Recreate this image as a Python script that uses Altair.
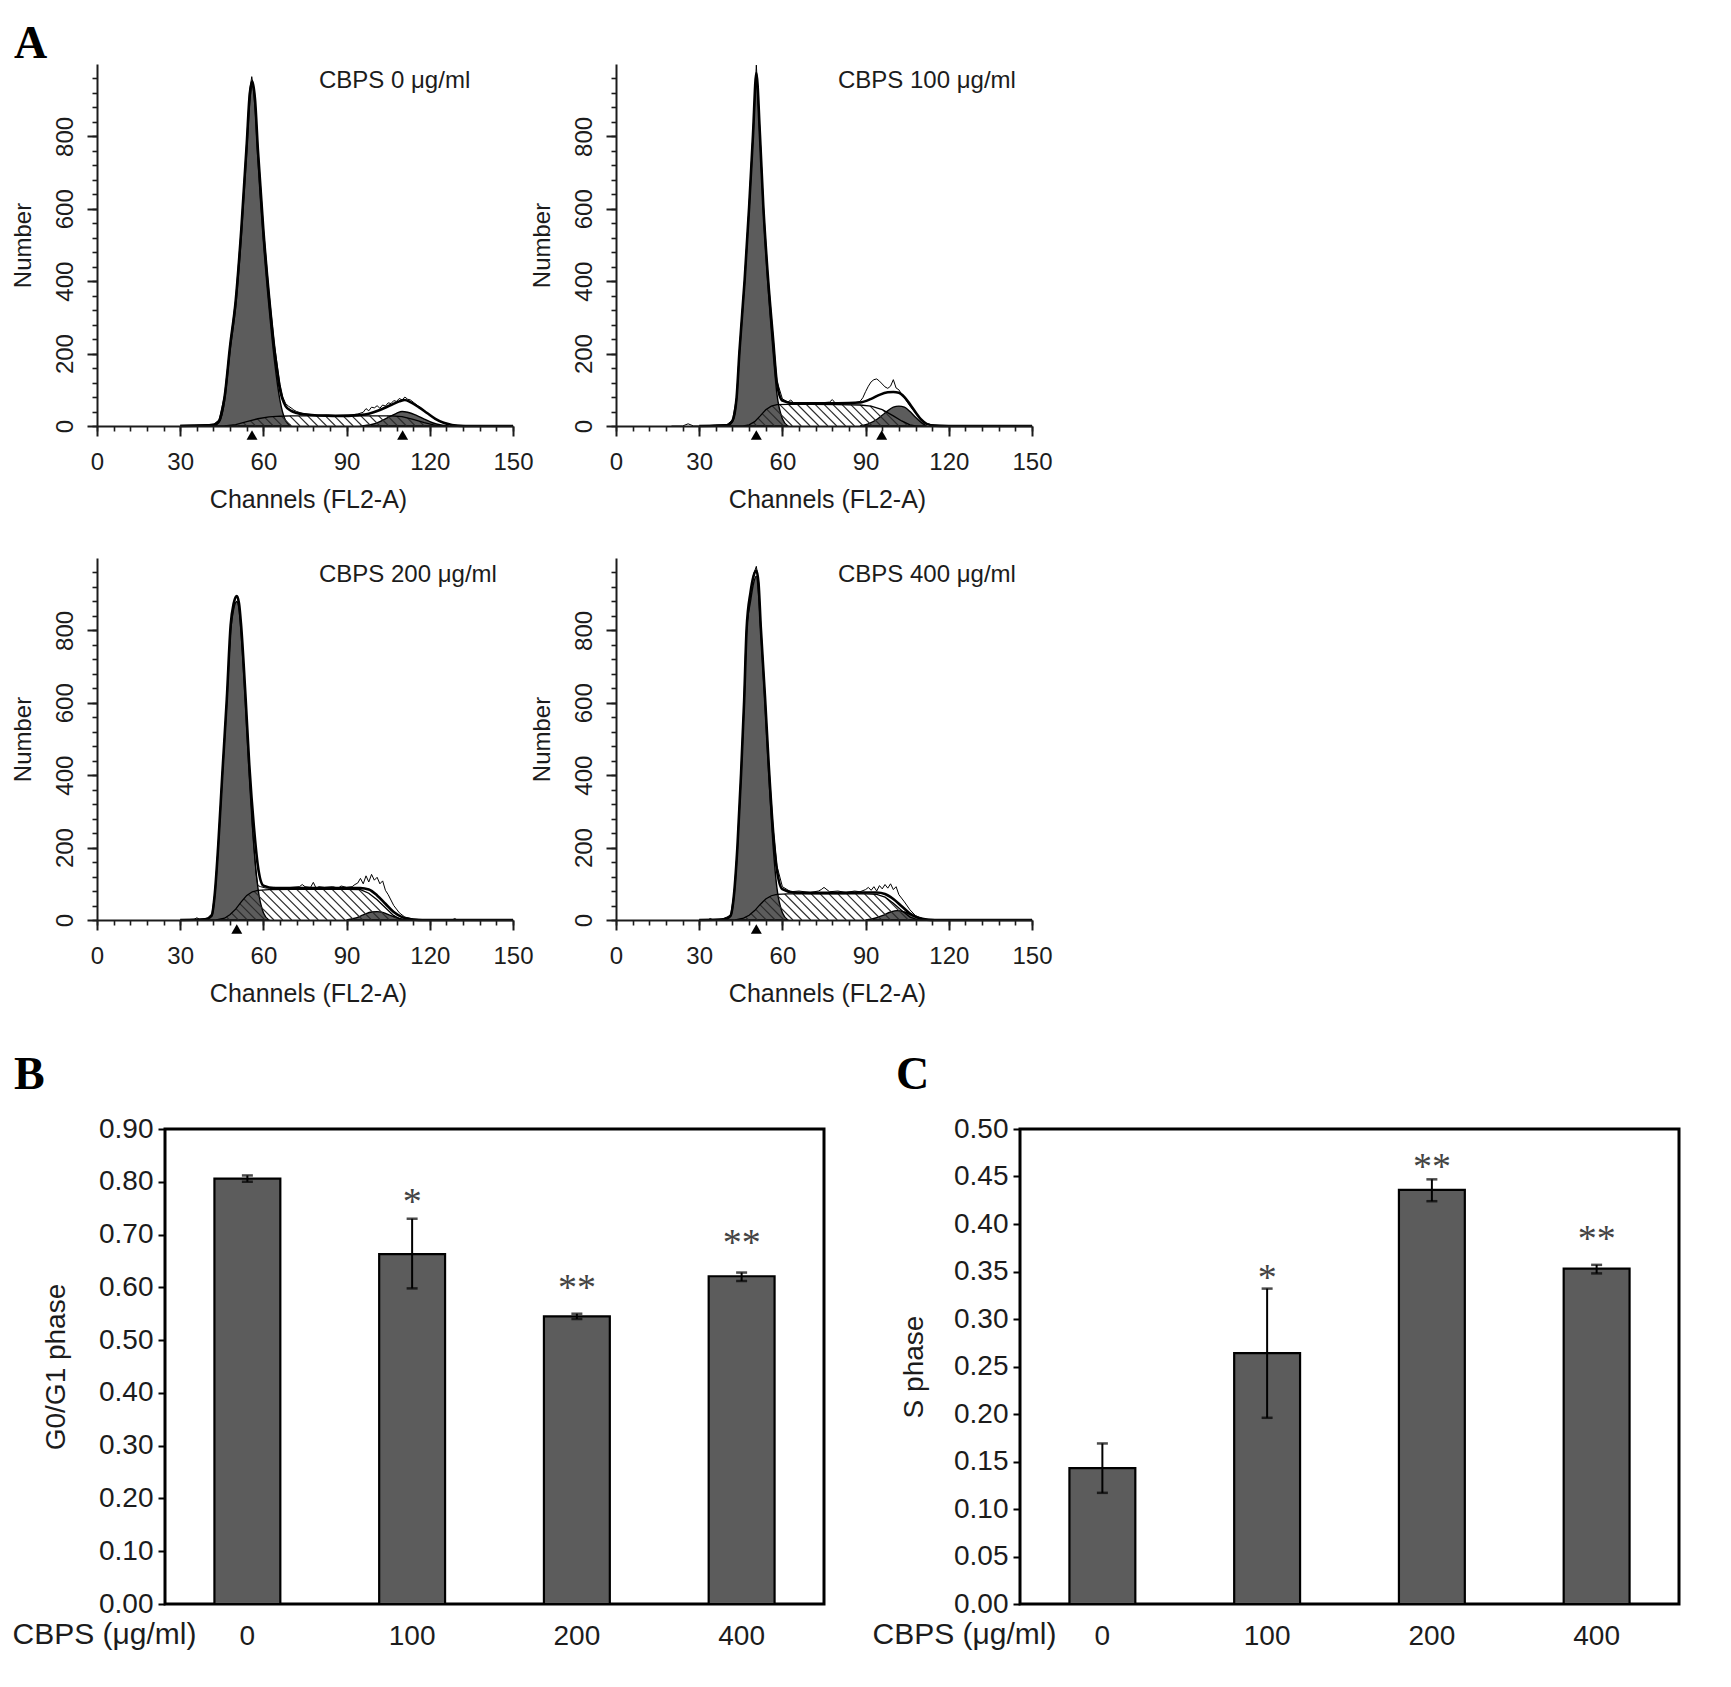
import numpy as np
import pandas as pd
import altair as alt

FONT = "Liberation Sans"
SERIF = "Liberation Serif"
INK = "#1c1c1c"
PEAK_GRAY = "#5c5c5c"

# ---------- panel A: DNA content histograms, (channel, number) ----------
PANEL_LABELS = ["CBPS 0 μg/ml", "CBPS 100 μg/ml", "CBPS 200 μg/ml", "CBPS 400 μg/ml"]

# CBPS 0
G1_0 = [(42, 0), (44, 10), (46, 70), (48, 210), (50, 330), (52, 520), (54, 760), (55, 890), (56, 938),
        (57, 880), (58, 740), (60, 510), (62, 330), (64, 180), (66, 70), (68, 15), (70, 0)]
S_0 = [(46, 0), (50, 4), (54, 12), (58, 20), (62, 25), (66, 27), (70, 28), (80, 28), (90, 28), (100, 28),
       (106, 28), (110, 26), (114, 18), (118, 9), (122, 2), (124, 0)]
G2_0 = [(95, 0), (99, 4), (102, 12), (105, 24), (108, 35), (110, 40), (112, 38), (115, 30), (118, 19),
        (121, 9), (124, 3), (127, 0)]
FIT_0 = [(30, 0), (40, 2), (42, 3), (44, 14), (46, 80), (48, 222), (50, 345), (52, 540), (54, 780), (55, 910),
         (56, 952), (57, 900), (58, 765), (60, 540), (62, 360), (64, 210), (66, 100), (68, 55), (70, 42), (72, 36),
         (76, 31), (80, 29), (85, 28), (90, 28), (94, 30), (98, 34), (102, 44), (106, 58), (109, 68), (111, 72),
         (113, 66), (116, 52), (119, 36), (122, 20), (125, 9), (128, 3), (132, 0), (150, 0)]
RAW_0 = [(30, 2), (35, 3), (40, 4), (42, 5), (44, 16), (46, 85), (48, 225), (50, 350), (52, 545), (54, 790),
         (55, 925), (55.8, 965), (57, 905), (58, 770), (60, 548), (62, 370), (64, 222), (66, 115), (67, 80),
         (68, 62), (69, 55), (70, 50), (71, 44), (72, 40), (74, 35), (77, 32), (80, 30), (83, 31), (86, 29),
         (89, 30), (92, 31), (94, 33), (96, 38), (97, 48), (98, 42), (99, 52), (100, 50), (101, 56), (102, 49),
         (103, 58), (104, 55), (105, 64), (106, 62), (107, 70), (108, 68), (109, 76), (110, 72), (111, 80),
         (112, 74), (113, 72), (114, 66), (116, 54), (118, 42), (120, 30), (122, 20), (124, 11), (126, 6),
         (128, 3), (131, 2), (134, 1), (138, 1), (142, 0)]
PEAKS_0 = [55.9, 110.2]

# CBPS 100
G1_100 = [(40, 0), (42, 12), (43.5, 75), (44.5, 200), (46.4, 400), (48, 600), (49.4, 800), (50.6, 960),
          (51.9, 800), (53.1, 600), (54.7, 400), (56.7, 200), (58, 90), (60, 20), (62, 0)]
S_100 = [(46, 0), (48, 3), (50, 12), (52, 28), (54, 45), (56, 55), (58, 59), (62, 60), (70, 60), (80, 59),
         (88, 58), (92, 55), (96, 45), (100, 28), (103, 14), (106, 3), (108, 0)]
G2_100 = [(88, 0), (91, 6), (94, 18), (97, 36), (100, 52), (102, 55), (104, 52), (106, 40), (108, 24),
          (110, 10), (112, 0)]
FIT_100 = [(30, 0), (40, 2), (42, 15), (43.5, 80), (44.5, 205), (46.4, 405), (48, 605), (49.4, 805),
           (50.6, 975), (51.9, 805), (53.1, 610), (54.7, 420), (56.7, 235), (58, 120), (60, 70), (64, 63),
           (70, 63), (80, 63), (88, 65), (92, 75), (95, 86), (98, 93), (100, 94), (102, 92), (104, 80),
           (106, 60), (108, 38), (110, 18), (112, 6), (115, 1), (120, 0), (150, 0)]
RAW_100 = [(20, 0), (24, 0), (26, 6), (28, 0), (32, 0), (36, 3), (40, 4), (42, 16), (43.5, 80), (44.5, 210),
           (46.4, 410), (48, 610), (49.4, 810), (50.6, 997), (51.9, 810), (53.1, 615), (54.7, 425),
           (56.7, 240), (58, 125), (60, 75), (62, 66), (63, 72), (64, 64), (66, 65), (70, 64), (74, 64),
           (77, 66), (78, 73), (79, 64), (82, 63), (86, 64), (88, 68), (89, 78), (90, 95), (91, 110),
           (92, 122), (93, 128), (94, 130), (95, 124), (96, 116), (97, 108), (98, 104), (99, 110), (100, 128),
           (101, 105), (102, 100), (103, 88), (104, 78), (106, 55), (108, 36), (110, 18), (112, 7), (114, 3),
           (117, 1), (120, 0)]
PEAKS_100 = [50.6, 95.8]

# CBPS 200
G1_200 = [(39, 0), (41.4, 10), (42.5, 70), (43.7, 200), (45.2, 400), (46.8, 600), (48.2, 800), (49.3, 860),
          (50.4, 880), (51.2, 860), (51.9, 800), (53.5, 600), (54.9, 400), (56.6, 200), (58, 90), (60, 20),
          (62, 0)]
S_200 = [(43, 0), (46, 5), (48, 15), (50, 30), (52, 50), (54, 68), (56, 78), (58, 82), (62, 84), (70, 85),
         (80, 85), (90, 85), (95, 84), (98, 74), (101, 56), (104, 34), (107, 12), (110, 0)]
G2_200 = [(90, 0), (93, 5), (96, 14), (99, 22), (101, 23), (103, 21), (106, 12), (109, 4), (112, 0)]
FIT_200 = [(30, 0), (39, 2), (41.4, 14), (42.5, 75), (43.7, 205), (45.2, 405), (46.8, 610), (48.2, 815),
           (49.3, 875), (50.4, 895), (51.2, 875), (51.9, 820), (53.5, 625), (54.9, 430), (56.6, 255),
           (58, 150), (60, 95), (64, 88), (70, 88), (80, 88), (90, 88), (95, 88), (98, 84), (101, 68),
           (104, 45), (107, 22), (110, 8), (113, 2), (116, 0), (150, 0)]
RAW_200 = [(30, 0), (35, 2), (36, 6), (37, 2), (40, 4), (41.4, 14), (42.5, 75), (43.7, 205), (45.2, 405),
           (46.8, 610), (48.2, 815), (49.3, 875), (50.4, 895), (51.2, 875), (51.9, 820), (53.5, 625),
           (54.9, 430), (56, 260), (56.8, 180), (57.4, 125), (58, 95), (59, 92), (61, 88), (64, 90), (67, 88),
           (70, 90), (73, 92), (74, 98), (75, 92), (77, 90), (78, 104), (79, 88), (80, 92), (82, 90), (85, 92),
           (87, 88), (88, 94), (90, 90), (92, 92), (93, 98), (94, 102), (95, 115), (96, 100), (97, 122),
           (98, 105), (99, 126), (100, 110), (101, 118), (102, 100), (103, 108), (104, 82), (105, 70),
           (107, 40), (109, 20), (111, 8), (114, 3), (118, 1), (125, 0), (128, 0), (129, 4), (130, 0), (135, 0)]
PEAKS_200 = [50.4]

# CBPS 400
G1_400 = [(39, 0), (41.3, 10), (42.6, 70), (43.8, 200), (45.1, 400), (46.2, 600), (47.1, 800), (48.5, 880),
          (49.6, 930), (50.6, 950), (51.4, 900), (52.2, 800), (53.7, 600), (55.1, 400), (56.7, 200), (58, 90),
          (60, 20), (62, 0)]
S_400 = [(43, 0), (46, 5), (48, 13), (50, 26), (52, 43), (54, 58), (56, 67), (58, 71), (62, 72), (70, 72),
         (80, 72), (90, 72), (94, 71), (97, 63), (100, 46), (103, 26), (106, 8), (109, 0)]
G2_400 = [(90, 0), (93, 4), (96, 12), (99, 22), (101.5, 26), (104, 22), (107, 12), (110, 4), (113, 0)]
FIT_400 = [(30, 0), (39, 2), (41.3, 12), (42.6, 75), (43.8, 205), (45.1, 405), (46.2, 605), (47.1, 805),
           (48.5, 905), (49.6, 950), (50.6, 965), (51.4, 930), (52.2, 810), (53.7, 620), (55.1, 425),
           (56.7, 240), (58, 140), (60, 85), (64, 76), (70, 75), (80, 75), (90, 76), (94, 76), (97, 72),
           (100, 58), (103, 38), (106, 18), (109, 6), (112, 1), (115, 0), (150, 0)]
RAW_400 = [(30, 0), (33, 0), (34, 4), (35, 0), (38, 2), (41.3, 12), (42.6, 75), (43.8, 205), (45.1, 405),
           (46.2, 605), (47.1, 805), (48.5, 905), (49.6, 955), (50.6, 977), (51.4, 935), (52.2, 815),
           (53.7, 625), (55.1, 430), (56.7, 250), (58, 150), (60, 92), (63, 78), (66, 80), (70, 76), (73, 80),
           (74, 84), (75, 90), (77, 78), (80, 80), (83, 76), (86, 80), (88, 78), (90, 84), (91, 90), (92, 82),
           (93, 92), (94, 80), (95, 95), (96, 86), (97, 98), (98, 88), (99, 100), (100, 84), (101, 92),
           (102, 70), (104, 50), (106, 28), (108, 12), (110, 5), (113, 1), (116, 0)]
PEAKS_400 = [50.6]

# ---------- panels B and C: phase fractions (mean, error bar ends, significance marks) ----------
DOSES = ["0", "100", "200", "400"]
G01_MEAN = [0.806, 0.663, 0.545, 0.621]
G01_LOW = [0.800, 0.598, 0.540, 0.612]
G01_HIGH = [0.812, 0.730, 0.550, 0.628]
G01_MARK = ["", "*", "**", "**"]
G01_MARK_AT = [0.0, 0.772, 0.609, 0.693]
S_MEAN = [0.143, 0.264, 0.436, 0.353]
S_LOW = [0.117, 0.196, 0.424, 0.348]
S_HIGH = [0.169, 0.332, 0.447, 0.357]
S_MARK = ["", "*", "**", "**"]
S_MARK_AT = [0.0, 0.348, 0.465, 0.390]

W_A, H_A = 416, 362
W_BC, H_BC = 659, 475


def pts(pairs):
    return pd.DataFrame(pairs, columns=["ch", "n"])


def hatch_segments(s_pairs, step=3.2):
    # 45 degree hatch lines (top-left to bottom-right) clipped to the S-phase region
    sx = np.array([p[0] for p in s_pairs], dtype=float)
    sy = np.array([p[1] for p in s_pairs], dtype=float)
    k = (W_A / 150) / (H_A / 1000)
    t = np.linspace(0, 30, 1501)
    rows = []
    for x0 in np.arange(sx[0] + step / 2, sx[-1], step):
        climb = k * t
        limit = np.interp(x0 - t, sx, sy, left=0, right=0)
        out = np.nonzero(climb > limit)[0]
        if len(out) == 0 or out[0] < 3:
            continue
        j = out[0]
        rows.append({"ch": x0, "n": 0.0, "ch2": x0 - t[j], "n2": climb[j]})
    return pd.DataFrame(rows)


def histogram(label, g1, s, g2, fit, raw, peaks, letter=None):
    xs = alt.Scale(domain=[0, 150], nice=False)
    ys = alt.Scale(domain=[0, 1000], nice=False)
    x_plain = alt.X("ch:Q", scale=xs, axis=None)
    y_plain = alt.Y("n:Q", scale=ys, axis=None)

    x_major = alt.Axis(values=list(range(0, 151, 30)), title="Channels (FL2-A)", orient="bottom",
                       tickSize=10, tickWidth=2, tickColor=INK, domainColor=INK, domainWidth=2,
                       labelFontSize=24, labelPadding=14, labelColor=INK, labelFlush=False,
                       titleFontSize=25, titleFontWeight="normal", titleColor=INK,
                       titleX=211, titleY=73, titleBaseline="middle", grid=False, zindex=1)
    y_major = alt.Axis(values=list(range(0, 801, 200)), title="Number", orient="left",
                       tickSize=10, tickWidth=2, tickColor=INK, domainColor=INK, domainWidth=2,
                       labelFontSize=24, labelPadding=15, labelColor=INK, labelAngle=270,
                       labelAlign="center", labelBaseline="alphabetic",
                       titleFontSize=24, titleFontWeight="normal", titleColor=INK,
                       titleX=-74, titleY=181, titleBaseline="middle", grid=False, zindex=1)
    x_minor = alt.Axis(values=list(range(0, 151, 6)), orient="bottom", labels=False, domain=False,
                       tickSize=5, tickWidth=1.6, tickColor=INK, title="", grid=False, zindex=1)
    y_minor = alt.Axis(values=list(range(0, 961, 40)), orient="left", labels=False, domain=False,
                       tickSize=5, tickWidth=1.6, tickColor=INK, title="", grid=False, zindex=1)

    fill_style = dict(fill=PEAK_GRAY, stroke="black", strokeWidth=1.4, interpolate="monotone")
    g1_layer = alt.Chart(pts(g1)).mark_area(**fill_style).encode(x=x_plain, y=y_plain)
    g2_layer = alt.Chart(pts(g2)).mark_area(**fill_style).encode(x=x_plain, y=y_plain)
    hatch = alt.Chart(hatch_segments(s)).mark_rule(color="#2a2a2a", strokeWidth=1.1).encode(
        x=x_plain, x2=alt.X2("ch2"), y=y_plain, y2=alt.Y2("n2"))
    s_line = alt.Chart(pts(s)).mark_line(color="black", strokeWidth=1.3).encode(x=x_plain, y=y_plain)
    raw_line = alt.Chart(pts(raw)).mark_line(color="black", strokeWidth=1.0).encode(x=x_plain, y=y_plain)
    fit_line = alt.Chart(pts(fit)).mark_line(color="black", strokeWidth=2.6, interpolate="monotone").encode(
        x=alt.X("ch:Q", scale=xs, axis=x_major), y=alt.Y("n:Q", scale=ys, axis=y_major))
    markers = alt.Chart(pd.DataFrame({"ch": peaks})).mark_point(
        shape="triangle-up", filled=True, color="black", opacity=1, size=120).encode(
        x=x_plain, y=alt.value(H_A + 9))
    tag = alt.Chart(pd.DataFrame({"t": [label]})).mark_text(
        font=FONT, fontSize=24, color=INK, align="left", baseline="middle").encode(
        x=alt.value(222), y=alt.value(17), text="t:N")
    minor = alt.Chart(pts(fit)).mark_point(opacity=0).encode(
        x=alt.X("ch:Q", scale=xs, axis=x_minor), y=alt.Y("n:Q", scale=ys, axis=y_minor))

    layers = [g1_layer, g2_layer, hatch, s_line, raw_line, fit_line, markers, tag, minor]
    if letter:
        layers.append(alt.Chart(pd.DataFrame({"t": [letter]})).mark_text(
            font=SERIF, fontSize=46, fontWeight="bold", color="black", align="left",
            baseline="alphabetic").encode(x=alt.value(-83), y=alt.value(-6), text="t:N"))
    return alt.layer(*layers).resolve_axis(x="independent", y="independent").properties(
        width=W_A, height=H_A)


def bar_panel(means, low, high, marks, mark_at, ymax, ystep, ytitle, ytitle_x, xtitle_x, letter, letter_x):
    df = pd.DataFrame({"dose": DOSES, "mean": means, "low": low, "high": high,
                       "mark": marks, "mark_at": mark_at})
    base = alt.Chart(df)
    band = alt.Scale(paddingInner=0.6, paddingOuter=0.3)
    ys = alt.Scale(domain=[0, ymax], nice=False)
    x_axis = alt.Axis(title="CBPS (μg/ml)", labelAngle=0, domain=False, ticks=False, tickSize=0,
                      labelPadding=18, labelFontSize=28, labelColor=INK, titleFontSize=30,
                      titleFontWeight="normal", titleColor=INK, titleX=xtitle_x, titleY=30,
                      titleAlign="left", titleBaseline="middle")
    yvals = [round(v * ystep, 2) for v in range(int(round(ymax / ystep)) + 1)]
    y_axis = alt.Axis(values=yvals, format=".2f", title=ytitle, domain=False, grid=False,
                      tickSize=7, tickWidth=2, tickColor="black", labelFontSize=28, labelPadding=5,
                      labelColor=INK, titleFontSize=28, titleFontWeight="normal", titleColor=INK,
                      titleX=ytitle_x, titleY=H_BC / 2, titleBaseline="middle")
    x_enc = alt.X("dose:N", sort=DOSES, scale=band, axis=x_axis)

    bars = base.mark_bar(fill=PEAK_GRAY, stroke="black", strokeWidth=2.2).encode(
        x=x_enc, y=alt.Y("mean:Q", scale=ys, axis=y_axis))
    err = base.mark_rule(color="black", strokeWidth=2).encode(
        x=x_enc, y=alt.Y("low:Q", scale=ys), y2=alt.Y2("high"))
    cap_low = base.mark_tick(color="black", thickness=2.5, size=11, orient="horizontal").encode(
        x=x_enc, y=alt.Y("low:Q", scale=ys))
    cap_high = base.mark_tick(color="black", thickness=2.5, size=11, orient="horizontal").encode(
        x=x_enc, y=alt.Y("high:Q", scale=ys))
    stars = base.transform_filter("datum.mark != ''").mark_text(
        font=SERIF, fontSize=38, color="#444444", baseline="alphabetic", dy=17).encode(
        x=x_enc, y=alt.Y("mark_at:Q", scale=ys), text="mark:N")
    tag = alt.Chart(pd.DataFrame({"t": [letter]})).mark_text(
        font=SERIF, fontSize=46, fontWeight="bold", color="black", align="left",
        baseline="alphabetic").encode(x=alt.value(letter_x), y=alt.value(-40), text="t:N")
    return alt.layer(bars, err, cap_low, cap_high, stars, tag).properties(
        width=W_BC, height=H_BC, view=alt.ViewBackground(stroke="black", strokeWidth=3))


a1 = histogram(PANEL_LABELS[0], G1_0, S_0, G2_0, FIT_0, RAW_0, PEAKS_0, letter="A")
a2 = histogram(PANEL_LABELS[1], G1_100, S_100, G2_100, FIT_100, RAW_100, PEAKS_100)
a3 = histogram(PANEL_LABELS[2], G1_200, S_200, G2_200, FIT_200, RAW_200, PEAKS_200)
a4 = histogram(PANEL_LABELS[3], G1_400, S_400, G2_400, FIT_400, RAW_400, PEAKS_400)

panel_b = bar_panel(G01_MEAN, G01_LOW, G01_HIGH, G01_MARK, G01_MARK_AT, 0.9, 0.1,
                    "G0/G1 phase", -109, -153, "B", -151)
panel_c = bar_panel(S_MEAN, S_LOW, S_HIGH, S_MARK, S_MARK_AT, 0.5, 0.05,
                    "S phase", -106, -148, "C", -124)

spacer = alt.Chart(pd.DataFrame({"v": [0]})).mark_point(opacity=0).encode(
    x=alt.value(0), y=alt.value(0)).properties(width=68, height=10)

row1 = alt.hconcat(a1, a2, spacing=103, bounds="flush")
row2 = alt.hconcat(a3, a4, spacing=103, bounds="flush")
row3 = alt.hconcat(spacer, alt.hconcat(panel_b, panel_c, spacing=196, bounds="flush"),
                   spacing=0, bounds="flush")

chart = alt.vconcat(alt.vconcat(row1, row2, spacing=46), row3, spacing=44).properties(
    padding={"left": 2, "top": 13, "right": 10, "bottom": 10}
).configure(font=FONT, background="white").configure_view(strokeWidth=0)

chart.save("out.html", embed_options={"renderer": "svg", "actions": False})
